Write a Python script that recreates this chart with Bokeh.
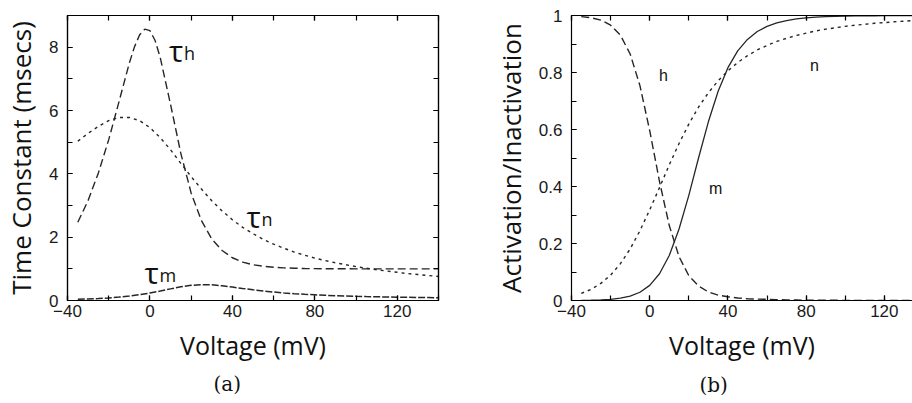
from bokeh.plotting import figure
from bokeh.layouts import row
from bokeh.models import Range1d, LinearAxis, Label, SingleIntervalTicker, Title
from bokeh.embed import file_html
from bokeh.resources import INLINE

# ---------------- data ----------------
volt = [-35, -30, -25, -20, -15, -10, -5, 0, 5, 10, 15, 20, 25, 30, 35, 40, 45, 50,
        55, 60, 65, 70, 75, 80, 85, 90, 95, 100, 105, 110, 115, 120, 125, 130, 135, 140]

volt_h = [-35, -30, -25, -20, -15, -10, -7.5, -5, -2.5, 0, 2.5, 5, 10, 15, 20, 25, 30,
          35, 40, 45, 50, 55, 60, 65, 70, 75, 80, 85, 90, 95, 100, 105, 110, 115, 120,
          125, 130, 135, 140]
tau_h = [2.47, 3.16, 4.03, 5.08, 6.28, 7.50, 8.01, 8.39, 8.57, 8.52, 8.21, 7.67, 6.19,
         4.64, 3.39, 2.52, 1.94, 1.58, 1.35, 1.21, 1.13, 1.08, 1.05, 1.03, 1.02, 1.01,
         1.006, 1.003, 1.002, 1.001, 1.0, 1.0, 1.0, 1.0, 1.0, 1.0, 1.0, 1.0, 1.0]

tau_n = [5.03, 5.28, 5.50, 5.68, 5.78, 5.78, 5.68, 5.46, 5.14, 4.76, 4.33, 3.91, 3.52,
         3.15, 2.83, 2.55, 2.31, 2.11, 1.93, 1.78, 1.65, 1.53, 1.43, 1.34, 1.26, 1.19,
         1.13, 1.07, 1.02, 0.97, 0.93, 0.89, 0.85, 0.82, 0.79, 0.76]

tau_m = [0.036, 0.047, 0.062, 0.082, 0.108, 0.141, 0.184, 0.237, 0.299, 0.367, 0.431,
         0.479, 0.501, 0.494, 0.464, 0.423, 0.379, 0.337, 0.299, 0.267, 0.239, 0.216,
         0.196, 0.180, 0.165, 0.153, 0.142, 0.133, 0.125, 0.118, 0.111, 0.105, 0.100,
         0.095, 0.091, 0.087]

h_inf = [0.996, 0.992, 0.984, 0.966, 0.931, 0.865, 0.754, 0.596, 0.418, 0.263, 0.154,
         0.087, 0.051, 0.030, 0.019, 0.013, 0.009, 0.006, 0.005, 0.004, 0.003, 0.002,
         0.002, 0.001, 0.001, 0.001, 0.001, 0.0, 0.0, 0.0, 0.0, 0.0, 0.0, 0.0, 0.0, 0.0]

n_inf = [0.025, 0.039, 0.060, 0.089, 0.129, 0.181, 0.245, 0.318, 0.396, 0.476, 0.551,
         0.619, 0.679, 0.729, 0.771, 0.806, 0.835, 0.859, 0.879, 0.895, 0.909, 0.920,
         0.930, 0.938, 0.946, 0.952, 0.957, 0.962, 0.966, 0.969, 0.973, 0.975, 0.978,
         0.980, 0.982, 0.984]

m_inf = [0.0005, 0.001, 0.002, 0.004, 0.008, 0.015, 0.029, 0.053, 0.094, 0.158, 0.251,
         0.369, 0.501, 0.627, 0.734, 0.817, 0.876, 0.916, 0.944, 0.962, 0.974, 0.982,
         0.988, 0.992, 0.994, 0.996, 0.997, 0.998, 0.999, 0.999, 0.999, 1.0, 1.0, 1.0,
         1.0, 1.0]

x_label = "Voltage (mV)"
y_label_a = "Time Constant (msecs)"
y_label_b = "Activation/Inactivation"
caption_a = "(a)"
caption_b = "(b)"

LABEL_FONT = "Open Sans"
TICK_FONT = "Liberation Sans"
INK = "#1a1a1a"
LINE = "#262626"


def style_axis(ax, interval, show_labels=True):
    ax.ticker = SingleIntervalTicker(interval=interval, num_minor_ticks=2)
    ax.major_tick_in = 5
    ax.major_tick_out = 0
    ax.minor_tick_in = 5
    ax.minor_tick_out = 0
    ax.major_tick_line_color = "black"
    ax.minor_tick_line_color = "black"
    ax.major_tick_line_width = 1.2
    ax.minor_tick_line_width = 1.2
    ax.axis_line_color = "black"
    ax.axis_line_width = 1.2
    ax.major_label_text_font = TICK_FONT
    ax.major_label_text_color = INK
    if show_labels:
        ax.major_label_text_font_size = "17px"
    else:
        ax.major_label_text_color = None
        ax.major_label_text_font_size = "0px"
        ax.major_label_standoff = 0
        ax.axis_label_standoff = 0


def style_labels(p, ylab_size):
    for ax in (p.xaxis[0], p.yaxis[0]):
        ax.axis_label_text_font = LABEL_FONT
        ax.axis_label_text_font_style = "normal"
        ax.axis_label_text_color = "#111111"
    p.xaxis[0].axis_label_text_font_size = "25px"
    p.yaxis[0].axis_label_text_font_size = ylab_size
    p.xaxis[0].axis_label_standoff = 8
    p.yaxis[0].axis_label_standoff = 7


# ---------------- (a) time constants ----------------
p1 = figure(width=460, height=403, x_range=Range1d(-40, 140), y_range=Range1d(0, 9),
            output_backend="svg", toolbar_location=None,
            min_border_left=60, min_border_right=22, min_border_top=14, min_border_bottom=101)
p1.grid.visible = False
p1.outline_line_color = "black"
p1.outline_line_width = 1.2

style_axis(p1.xaxis[0], 40)
style_axis(p1.yaxis[0], 2)
p1.xaxis[0].major_label_standoff = 4
p1.yaxis[0].major_label_standoff = 9
p1.xaxis[0].axis_label = x_label
p1.yaxis[0].axis_label = y_label_a
style_labels(p1, "26px")

ax_r = LinearAxis()
style_axis(ax_r, 2, show_labels=False)
p1.add_layout(ax_r, "right")
ax_t = LinearAxis()
style_axis(ax_t, 40, show_labels=False)
p1.add_layout(ax_t, "above")

p1.line(volt_h, tau_h, line_color=LINE, line_width=1.4, line_dash="8 4")
p1.line(volt, tau_n, line_color=LINE, line_width=1.4, line_dash="3 4")
p1.line(volt, tau_m, line_color=LINE, line_width=1.5, line_dash="7 2")

for (x, y, sub) in [(9.3, 7.9, "h"), (46.9, 2.66, "n"), (-2.6, 0.9, "m")]:
    p1.add_layout(Label(x=x, y=y, text="τ", text_font=LABEL_FONT, text_font_size="30px",
                        text_align="left", text_baseline="alphabetic", text_color="#111111"))
    p1.add_layout(Label(x=x, y=y, x_offset=15, y_offset=-3, text=sub, text_font=LABEL_FONT,
                        text_font_size="18px", text_align="left",
                        text_baseline="alphabetic", text_color="#111111"))

p1.add_layout(Title(text=caption_a, align="left", offset=146, standoff=10,
                    text_font="DejaVu Serif", text_font_size="20px",
                    text_font_style="normal", text_color="#111111"), "below")

# ---------------- (b) steady-state activation ----------------
p2 = figure(width=452, height=403, x_range=Range1d(-40, 134.4), y_range=Range1d(0, 1),
            output_backend="svg", toolbar_location=None,
            min_border_left=111, min_border_right=0, min_border_top=15, min_border_bottom=103)
p2.grid.visible = False
p2.outline_line_color = None

style_axis(p2.xaxis[0], 40)
style_axis(p2.yaxis[0], 0.2)
p2.yaxis[0].major_label_overrides = {0: "0", 1: "1"}
p2.xaxis[0].major_label_standoff = 4
p2.yaxis[0].major_label_standoff = 9
p2.xaxis[0].axis_label = x_label
p2.yaxis[0].axis_label = y_label_b
style_labels(p2, "26px")

ax_t2 = LinearAxis()
style_axis(ax_t2, 40, show_labels=False)
p2.add_layout(ax_t2, "above")

p2.line(volt, h_inf, line_color=LINE, line_width=1.4, line_dash="8 4")
p2.line(volt, n_inf, line_color=LINE, line_width=1.4, line_dash="3 4")
p2.line(volt, m_inf, line_color=LINE, line_width=1.3)

for (x, y, t) in [(7.0, 0.79, "h"), (84.3, 0.825, "n"), (33.7, 0.393, "m")]:
    p2.add_layout(Label(x=x, y=y, text=t, text_font=TICK_FONT, text_font_size="16px",
                        text_align="center", text_baseline="alphabetic",
                        text_color="#111111"))

p2.add_layout(Title(text=caption_b, align="left", offset=128, standoff=12,
                    text_font="DejaVu Serif", text_font_size="20px",
                    text_font_style="normal", text_color="#111111"), "below")

layout = row(p1, p2)
open("out.html", "w").write(file_html(layout, INLINE))
